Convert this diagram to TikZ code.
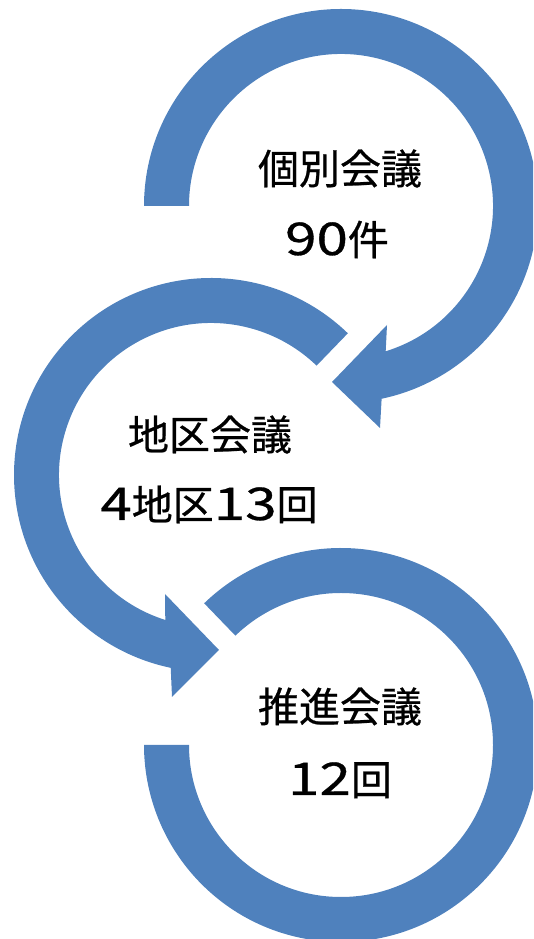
\documentclass[tikz,border=0pt]{standalone}
\usepackage{fontspec}
\usepackage{graphicx}
\newfontfamily\jpfont[FakeBold=0.6]{Noto Sans CJK JP}
\usetikzlibrary{calc}
\definecolor{arrowblue}{HTML}{4F81BD}
\newcommand\dg[1]{\scalebox{1.38}[1.1]{#1}}
\begin{document}
\begin{tikzpicture}[x=1pt,y=1pt,
  ring/.style={fill=arrowblue},
  lbl/.style={font=\jpfont\fontsize{41}{48}\selectfont, inner sep=0pt, anchor=base, text=black}]
\useasboundingbox (0,0) rectangle (533,939);
\clip (0,0) rectangle (533,939);
\coordinate (c1) at (341,733);
\coordinate (c2) at (211,464);
\coordinate (c3) at (341,194);
% arrow 1 (top, clockwise)
\path[ring] ($(c1)+(180:197pt)$) arc[start angle=180,end angle=-78.1,radius=197pt]
  -- (380,511) -- (332,557) -- (387,614)
  -- ($(c1)+(-72.9:152pt)$) arc[start angle=-72.9,end angle=180,radius=152pt] -- cycle;
% arrow 2 (middle, counter-clockwise)
\path[ring] ($(c2)+(46:197pt)$) arc[start angle=46,end angle=258.2,radius=197pt]
  -- (172,242) -- (219,289) -- (165,345)
  -- ($(c2)+(252.5:152pt)$) arc[start angle=252.5,end angle=46,radius=152pt] -- cycle;
% arrow 3 (bottom, clockwise)
\path[ring] ($(c3)+(134:197pt)$) arc[start angle=134,end angle=-180,radius=197pt]
  -- ($(c3)+(180:152pt)$) arc[start angle=-180,end angle=134,radius=152pt] -- cycle;
% labels
\node[lbl] (t1a) at (340,755) {個別会議};
\node[lbl] (t1b) at (337,684) {\dg{9}\dg{0}件};
\node[lbl] (t2a) at (210,489) {地区会議};
\node[lbl] (t2b) at (209,419) {\dg{4}地区\dg{1}\dg{3}回};
\node[lbl] (t3a) at (340,217) {推進会議};
\node[lbl] (t3b) at (340,144) {\dg{1}\dg{2}回};
\end{tikzpicture}
\end{document}
